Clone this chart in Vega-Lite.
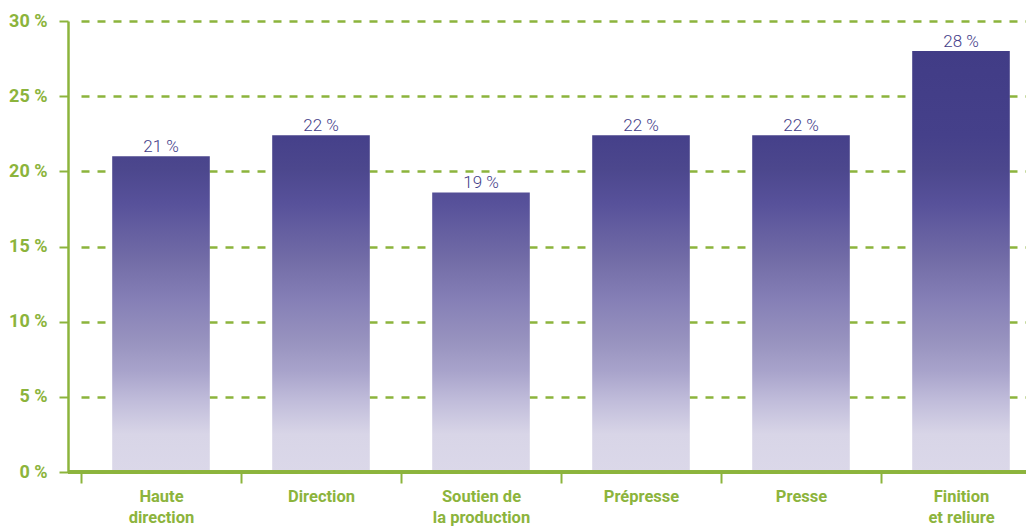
{
  "$schema": "https://vega.github.io/schema/vega-lite/v6.json",
  "width": 958,
  "height": 451,
  "autosize": {"type": "none"},
  "padding": {"left": 68, "top": 21, "right": 0, "bottom": 55},
  "background": "white",
  "config": {"view": {"stroke": null}},
  "data": {
    "values": [
      {"category": "Haute direction", "value": 21.0, "label": "21 %"},
      {"category": "Direction", "value": 22.4, "label": "22 %"},
      {"category": "Soutien de la production", "value": 18.6, "label": "19 %"},
      {"category": "Prépresse", "value": 22.4, "label": "22 %"},
      {"category": "Presse", "value": 22.4, "label": "22 %"},
      {"category": "Finition et reliure", "value": 28.0, "label": "28 %"}
    ]
  },
  "encoding": {
    "x": {
      "field": "category",
      "type": "nominal",
      "sort": null,
      "scale": {"range": [13, 973], "paddingInner": 0, "paddingOuter": 0},
      "axis": {
        "title": null,
        "domain": false,
        "tickBand": "extent",
        "ticks": true,
        "tickColor": "#8cb43c",
        "tickWidth": 2,
        "tickSize": 11,
        "labelAngle": 0,
        "labelFont": "Roboto",
        "labelFontWeight": "bold",
        "labelFontSize": 16.5,
        "labelColor": "#8cb43c",
        "labelPadding": 5,
        "labelLineHeight": 21,
        "labelExpr": "datum.value == 'Haute direction' ? ['Haute', 'direction'] : datum.value == 'Soutien de la production' ? ['Soutien de', 'la production'] : datum.value == 'Finition et reliure' ? ['Finition', 'et reliure'] : datum.value"
      }
    }
  },
  "layer": [
    {
      "mark": {
        "type": "bar",
        "width": {"band": 0.61},
        "fill": {"expr": "{gradient: 'linear', x1: 0, y1: 1, x2: 0, y2: 1 - 28 / datum.value, stops: [{offset: 0, color: '#dbd8e9'}, {offset: 0.09, color: '#d8d5e7'}, {offset: 0.17, color: '#c0bcda'}, {offset: 0.24, color: '#a8a3cb'}, {offset: 0.31, color: '#9893bf'}, {offset: 0.41, color: '#857fb6'}, {offset: 0.5, color: '#736da7'}, {offset: 0.64, color: '#57519a'}, {offset: 0.72, color: '#4c478d'}, {offset: 0.8, color: '#45408a'}, {offset: 1, color: '#413c86'}]}"}
      },
      "encoding": {
        "y": {
          "field": "value",
          "type": "quantitative",
          "scale": {"domain": [0, 30], "nice": false},
          "axis": {
            "title": null,
            "values": [0, 5, 10, 15, 20, 25, 30],
            "labelExpr": "datum.value + ' %'",
            "labelFont": "Roboto",
            "labelFontWeight": "bold",
            "labelFontSize": 18,
            "labelColor": "#8cb43c",
            "labelPadding": 12,
            "domainColor": "#8cb43c",
            "domainWidth": 2.5,
            "tickColor": "#8cb43c",
            "tickWidth": 2,
            "tickSize": 9,
            "grid": true,
            "gridColor": "#8cb43c",
            "gridWidth": 2.5,
            "gridDash": [8, 8],
            "gridOpacity": 1
          }
        }
      }
    },
    {
      "mark": {
        "type": "text",
        "baseline": "alphabetic",
        "dy": -4,
        "font": "Roboto",
        "fontWeight": 300,
        "fontSize": 17,
        "color": "#433d88"
      },
      "encoding": {
        "y": {"field": "value", "type": "quantitative"},
        "text": {"field": "label"}
      }
    },
    {
      "mark": {"type": "rule", "color": "#8cb43c", "strokeWidth": 3},
      "encoding": {"y": {"datum": 0}, "x": null}
    }
  ]
}
